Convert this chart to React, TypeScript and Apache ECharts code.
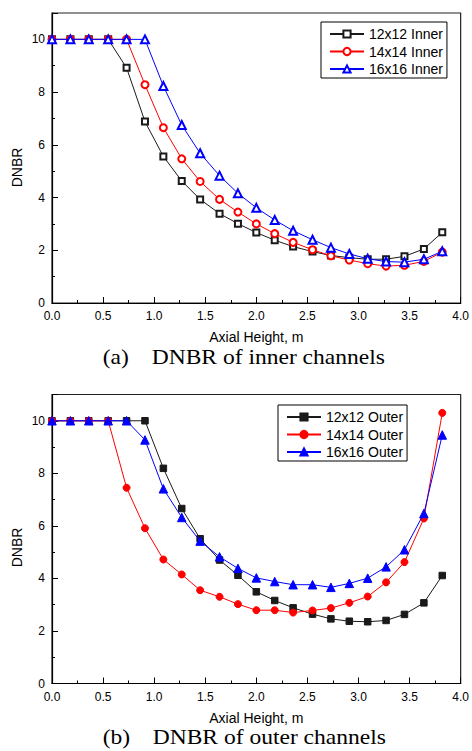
import React, { useEffect, useRef } from "react";
import * as echarts from "echarts";

const xHeights = [0, 0.18, 0.36, 0.55, 0.73, 0.91, 1.09, 1.27, 1.45, 1.64, 1.82, 2.0, 2.18, 2.36, 2.55, 2.73, 2.91, 3.09, 3.27, 3.45, 3.64, 3.82];

const inner12 = [10, 10, 10, 10, 8.92, 6.88, 5.56, 4.63, 3.93, 3.39, 3.01, 2.67, 2.38, 2.14, 1.95, 1.8, 1.72, 1.66, 1.66, 1.77, 2.05, 2.68];
const inner14 = [10, 10, 10, 10, 10, 8.28, 6.65, 5.47, 4.61, 3.93, 3.45, 3.0, 2.63, 2.3, 2.02, 1.79, 1.63, 1.49, 1.4, 1.43, 1.58, 1.93];
const inner16 = [10, 10, 10, 10, 10, 10, 8.23, 6.75, 5.68, 4.83, 4.16, 3.61, 3.15, 2.74, 2.4, 2.1, 1.86, 1.68, 1.57, 1.55, 1.66, 1.96];

const outer12 = [10, 10, 10, 10, 10, 10, 8.19, 6.66, 5.51, 4.7, 4.12, 3.49, 3.16, 2.88, 2.64, 2.46, 2.37, 2.35, 2.4, 2.63, 3.07, 4.11];
const outer14 = [10, 10, 10, 10, 7.45, 5.91, 4.72, 4.15, 3.55, 3.3, 3.02, 2.79, 2.79, 2.7, 2.78, 2.87, 3.07, 3.31, 3.85, 4.62, 6.28, 10.3];
const outer16 = [10, 10, 10, 10, 10, 9.27, 7.41, 6.32, 5.42, 4.82, 4.38, 4.02, 3.88, 3.76, 3.76, 3.66, 3.81, 4.01, 4.44, 5.09, 6.47, 9.46];

const innerNames = ["12x12 Inner", "14x14 Inner", "16x16 Inner"];
const outerNames = ["12x12 Outer", "14x14 Outer", "16x16 Outer"];
const captions = ["(a)", "DNBR of inner channels", "(b)", "DNBR of outer channels"];
const yTitle = "DNBR";
const xTitle = "Axial Height, m";

const SANS = "Liberation Sans, Arial, sans-serif";
const SERIF = "Liberation Serif, Times New Roman, serif";

const colors = ["#1a1a1a", "#ff0000", "#0000ff"];

function pairs(vals: number[]) {
  return vals.map((v, i) => [xHeights[i], v]);
}

function makeAxes(gridIndex: number) {
  const x = {
    type: "value",
    gridIndex,
    min: 0,
    max: 4,
    interval: 0.5,
    name: xTitle,
    nameLocation: "middle",
    nameGap: 27,
    nameTextStyle: { fontFamily: SANS, fontSize: 14, color: "#000" },
    axisLine: { show: true, onZero: false, lineStyle: { color: "#000", width: 1.2 } },
    axisTick: { show: true, inside: true, length: 6, lineStyle: { color: "#000", width: 1 } },
    minorTick: { show: true, splitNumber: 2, length: 3, lineStyle: { color: "#000", width: 1 } },
    axisLabel: {
      margin: 7,
      fontFamily: SANS,
      fontSize: 12,
      color: "#000",
      formatter: (v: number) => v.toFixed(1),
    },
    splitLine: { show: false },
  };
  const y = {
    type: "value",
    gridIndex,
    min: 0,
    max: 11,
    interval: 2,
    axisLine: { show: true, onZero: false, lineStyle: { color: "#000", width: 1.2 } },
    axisTick: { show: true, inside: true, length: 6, lineStyle: { color: "#000", width: 1 } },
    minorTick: { show: true, splitNumber: 2, length: 3, lineStyle: { color: "#000", width: 1 } },
    axisLabel: {
      margin: 7,
      fontFamily: SANS,
      fontSize: 12,
      color: "#000",
      formatter: (v: number) => (v > 10 ? "" : String(v)),
    },
    splitLine: { show: false },
  };
  return { x, y };
}

function makeSeries(name: string, vals: number[], idx: number, gridIdx: number, symbol: string, size: number) {
  return {
    type: "line",
    name,
    xAxisIndex: gridIdx,
    yAxisIndex: gridIdx,
    data: pairs(vals),
    symbol,
    symbolSize: size,
    showAllSymbol: true,
    lineStyle: { color: colors[idx], width: 1 },
    itemStyle: { color: colors[idx], borderColor: colors[idx], borderWidth: 1 },
    emphasis: { disabled: true },
    z: 2 + idx,
  };
}

export default function App() {
  const ref = useRef<HTMLDivElement>(null);

  useEffect(() => {
    if (!ref.current) return;
    const chart = echarts.init(ref.current, undefined, { renderer: "svg" });
    const a0 = makeAxes(0);
    const a1 = makeAxes(1);
    const legendBase = {
      orient: "vertical",
      itemWidth: 34,
      itemHeight: 9,
      itemGap: 3.5,
      borderColor: "#000",
      borderWidth: 1,
      backgroundColor: "#fff",
      padding: [5, 4, 2, 8],
      textStyle: { fontFamily: SANS, fontSize: 14, color: "#000" },
      selectedMode: false,
    };
    chart.setOption({
      animation: false,
      backgroundColor: "#fff",
      grid: [
        { left: 52, top: 13, width: 410, height: 290, show: true, borderColor: "#222", borderWidth: 1.2, containLabel: false },
        { left: 52, top: 394.5, width: 410, height: 289, show: true, borderColor: "#222", borderWidth: 1.2, containLabel: false },
      ],
      xAxis: [a0.x, a1.x],
      yAxis: [a0.y, a1.y],
      legend: [
        { ...legendBase, left: 321, top: 22, data: innerNames },
        { ...legendBase, left: 278, top: 405, data: outerNames },
      ],
      series: [
        makeSeries(innerNames[0], inner12, 0, 0, "emptyRect", 6),
        makeSeries(innerNames[1], inner14, 1, 0, "emptyCircle", 7),
        makeSeries(innerNames[2], inner16, 2, 0, "emptyTriangle", 8),
        makeSeries(outerNames[0], outer12, 0, 1, "rect", 6.5),
        makeSeries(outerNames[1], outer14, 1, 1, "circle", 7),
        makeSeries(outerNames[2], outer16, 2, 1, "triangle", 8.5),
      ],
      graphic: [
        {
          type: "text",
          x: 17,
          y: 167.5,
          rotation: Math.PI / 2,
          style: { text: yTitle, fontFamily: SANS, fontSize: 14, fill: "#000", textAlign: "center", textVerticalAlign: "middle" },
        },
        {
          type: "text",
          x: 17,
          y: 547.5,
          rotation: Math.PI / 2,
          style: { text: yTitle, fontFamily: SANS, fontSize: 14, fill: "#000", textAlign: "center", textVerticalAlign: "middle" },
        },
        {
          type: "text",
          x: 102.7,
          y: 367.3,
          scaleX: 1.07,
          style: { text: captions[0], fontFamily: SERIF, fontSize: 22, fill: "#000", textAlign: "left", textVerticalAlign: "bottom" },
        },
        {
          type: "text",
          x: 151.7,
          y: 367.3,
          scaleX: 1.07,
          style: { text: captions[1], fontFamily: SERIF, fontSize: 22, fill: "#000", textAlign: "left", textVerticalAlign: "bottom" },
        },
        {
          type: "text",
          x: 102.7,
          y: 747.3,
          scaleX: 1.07,
          style: { text: captions[2], fontFamily: SERIF, fontSize: 22, fill: "#000", textAlign: "left", textVerticalAlign: "bottom" },
        },
        {
          type: "text",
          x: 152.7,
          y: 747.3,
          scaleX: 1.07,
          style: { text: captions[3], fontFamily: SERIF, fontSize: 22, fill: "#000", textAlign: "left", textVerticalAlign: "bottom" },
        },
      ],
    });
    return () => chart.dispose();
  }, []);

  return (
    <div
      ref={ref}
      style={{ position: "absolute", left: 0, top: 0, width: 472, height: 751 }}
    />
  );
}
